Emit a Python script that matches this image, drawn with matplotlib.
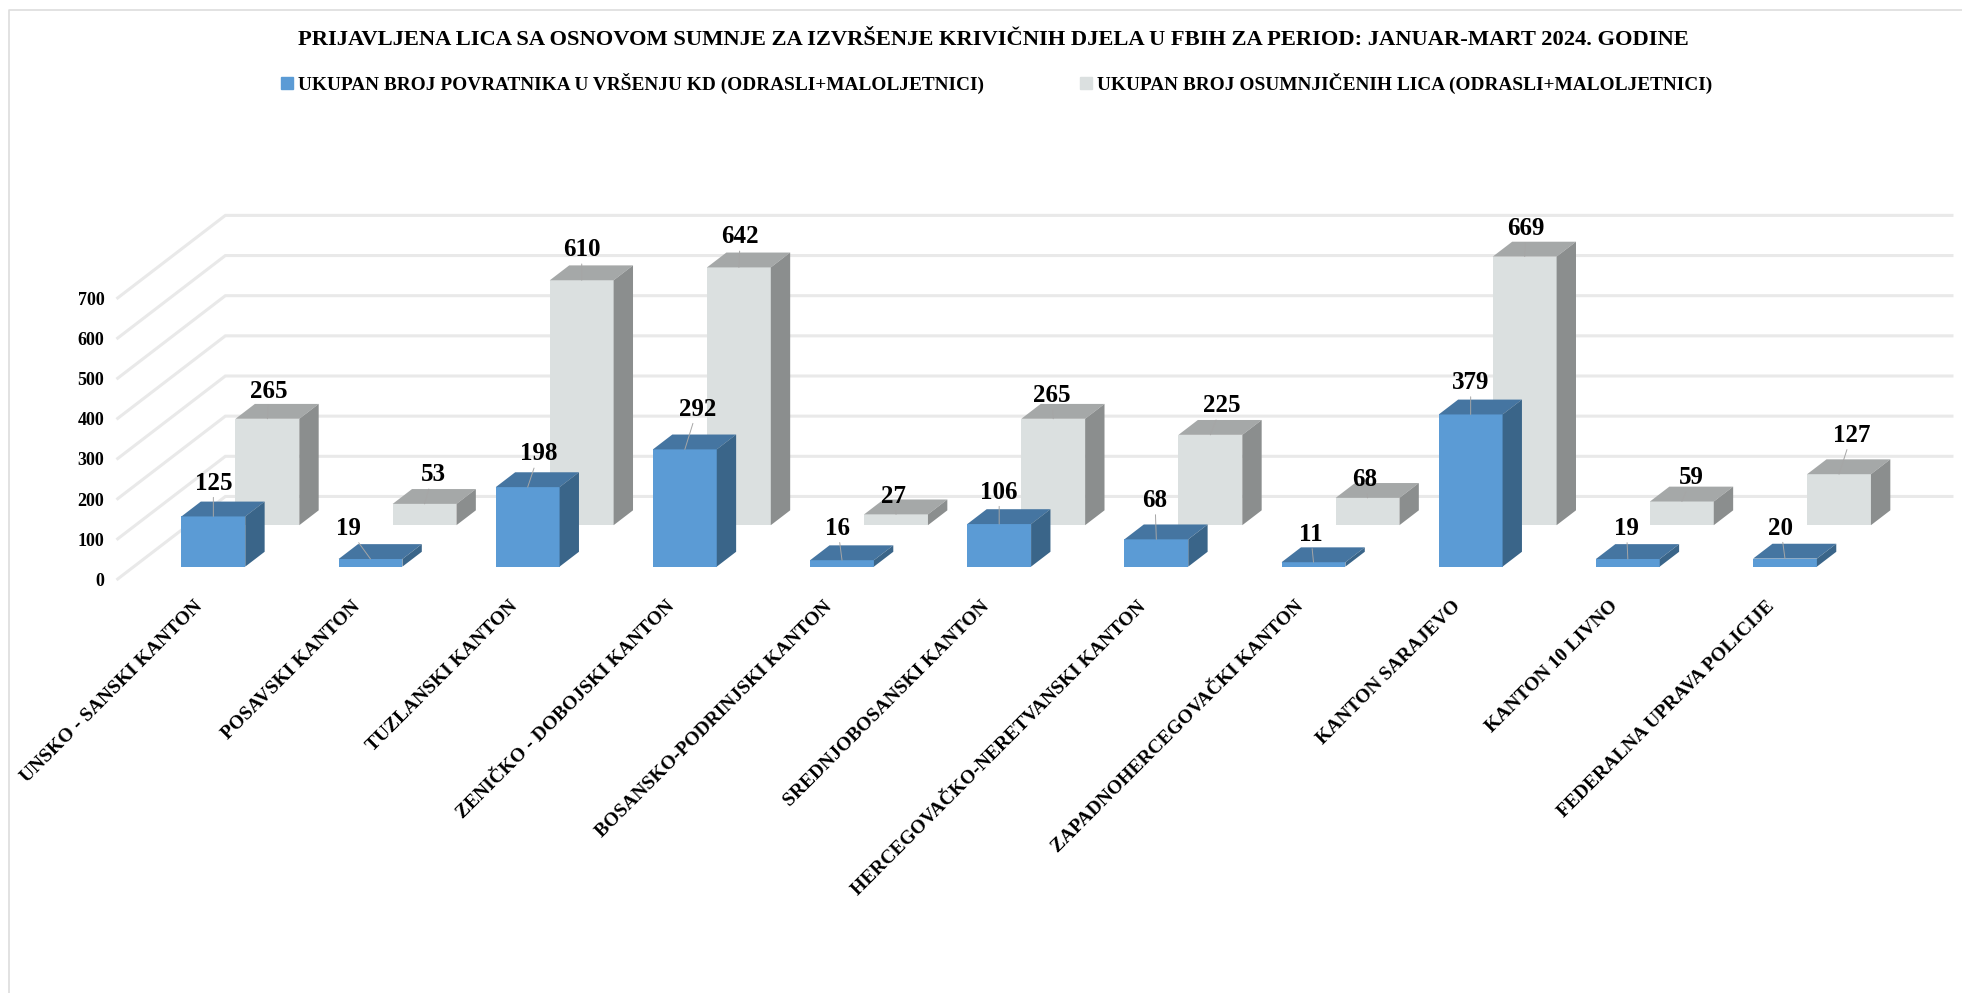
import matplotlib
matplotlib.use('Agg')
from matplotlib import pyplot as plt

plt.rcParams['font.family'] = ['Liberation Serif', 'DejaVu Serif']
plt.rcParams['font.weight'] = 'bold'

# podaci
title = 'PRIJAVLJENA LICA SA OSNOVOM SUMNJE ZA IZVRŠENJE KRIVIČNIH DJELA U FBIH ZA PERIOD: JANUAR-MART 2024. GODINE'
series_names = ['UKUPAN BROJ POVRATNIKA U VRŠENJU KD (ODRASLI+MALOLJETNICI)',
                'UKUPAN BROJ OSUMNJIČENIH LICA (ODRASLI+MALOLJETNICI)']
categories = ['UNSKO - SANSKI KANTON', 'POSAVSKI KANTON', 'TUZLANSKI KANTON',
              'ZENIČKO - DOBOJSKI KANTON', 'BOSANSKO-PODRINJSKI KANTON',
              'SREDNJOBOSANSKI KANTON', 'HERCEGOVAČKO-NERETVANSKI KANTON',
              'ZAPADNOHERCEGOVAČKI KANTON', 'KANTON SARAJEVO', 'KANTON 10 LIVNO',
              'FEDERALNA UPRAVA POLICIJE']
povratnici = [125, 19, 198, 292, 16, 106, 68, 11, 379, 19, 20]
osumnjiceni = [265, 53, 610, 642, 27, 265, 225, 68, 669, 59, 127]
y_ticks = [0, 100, 200, 300, 400, 500, 600, 700]

# pomak natpisa u odnosu na vrh stupca (tacke)
blue_offsets = [(0, 24), (-16, 22), (8, 24), (9, 29), (-3, 23), (0, 23), (-1, 28), (-2, 20), (0, 23), (-1, 22), (-3, 22)]
gray_offsets = [(1, 20), (6, 21), (0, 22), (1, 22), (-2, 13), (-1, 17), (8, 21), (-2, 13), (1, 20), (7, 17), (9, 28)]

# kosa projekcija: dubina 0 je prednja ivica poda, 1 je zadnji zid
DX = 0.685
DY = 205.6
BAR_W = 0.406


def project(x, y, d):
    return x + d * DX, y + d * DY


fig = plt.figure(figsize=(19.62, 9.93), dpi=100)
ax = fig.add_axes([0, 0, 1, 1])
ax.set_xlim(-1.2548, 11.229)
ax.set_ylim(-1031, 1442)
ax.axis('off')

# okvir
ax.plot([0.0045, 0.0045, 1], [0, 0.99, 0.99], transform=ax.transAxes, color='#DDDDDD', lw=1.2)

# mreza
grid_left = -0.506
grid_right = 10.48
for v in y_ticks:
    xs, ys = zip(project(grid_left, v, 0), project(grid_left, v, 1), project(grid_right, v, 1))
    ax.plot(xs, ys, color='#E9E9E9', lw=2.2, solid_joinstyle='miter', zorder=1)
    ax.text(grid_left - 0.085, v - 6, str(v), ha='right', va='center', fontsize=13, color='black')


def draw_bar(x, v, d0, d1, front, top, side, z):
    l, r = x - BAR_W / 2, x + BAR_W / 2
    ax.fill(*zip(project(l, 0, d0), project(r, 0, d0), project(r, v, d0), project(l, v, d0)),
            color=front, lw=0, zorder=z)
    ax.fill(*zip(project(l, v, d0), project(r, v, d0), project(r, v, d1), project(l, v, d1)),
            color=top, lw=0, zorder=z)
    ax.fill(*zip(project(r, 0, d0), project(r, 0, d1), project(r, v, d1), project(r, v, d0)),
            color=side, lw=0, zorder=z)


def draw_label(x, v, d, off):
    ax.annotate(str(v), xy=project(x, v, d), xytext=off, textcoords='offset points',
                ha='center', va='center', fontsize=18, color='black', zorder=10,
                arrowprops=dict(arrowstyle='-', color='#A6A6A6', lw=0.7, shrinkA=0, shrinkB=0))


for i in range(len(categories)):
    draw_bar(i, osumnjiceni[i], 0.652, 0.832, '#DBE0E0', '#A5A8A8', '#8B8E8E', 3)
for i in range(len(categories)):
    draw_bar(i, povratnici[i], 0.15, 0.33, '#5B9BD5', '#4575A1', '#3A6589', 4)
for i in range(len(categories)):
    draw_label(i, osumnjiceni[i], 0.652, gray_offsets[i])
    draw_label(i, povratnici[i], 0.15, blue_offsets[i])
    ax.text(i + 0.02, -62, categories[i], rotation=45, rotation_mode='anchor',
            ha='right', va='center', fontsize=14, color='black')

ax.text(0.5064, 0.96, title, transform=ax.transAxes, ha='center', va='center', fontsize=16.2, color='black')

# legenda
h1 = plt.Rectangle((0, 0), 1, 1, color='#5B9BD5')
h2 = plt.Rectangle((0, 0), 1, 1, color='#DBE0E0')
ax.legend([h1, h2], series_names, ncols=2, frameon=False, fontsize=13.9,
          loc='center left', bbox_to_anchor=(0.143, 0.916), borderpad=0, borderaxespad=0,
          handlelength=0.64, handleheight=0.64, handletextpad=0.26, columnspacing=4.95)

fig.savefig('out.png', dpi=100)
